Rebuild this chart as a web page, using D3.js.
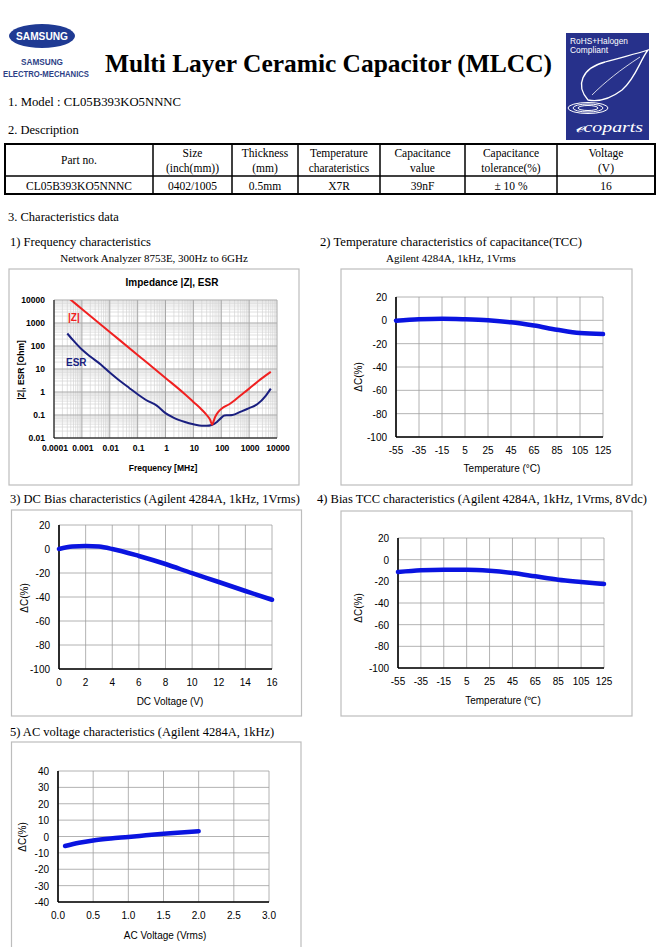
<!DOCTYPE html>
<html><head><meta charset="utf-8">
<script src="https://cdn.jsdelivr.net/npm/d3@7"></script>
<style>body{margin:0;background:#fff}svg{display:block}</style>
</head><body>
<script>
// ---------- DATA ----------
const tableHeaders = [["Part no."],["Size","(inch(mm))"],["Thickness","(mm)"],["Temperature","charateristics"],["Capacitance","value"],["Capacitance","tolerance(%)"],["Voltage","(V)"]];
const tableValues = ["CL05B393KO5NNNC","0402/1005","0.5mm","X7R","39nF","± 10 %","16"];

// 1) Impedance
const freqTicks = [0.0001,0.001,0.01,0.1,1,10,100,1000,10000];
const freqTickLabels = ["0.0001","0.001","0.01","0.1","1","10","100","1000","10000"];
const ohmTicks = [0.01,0.1,1,10,100,1000,10000];
const ohmTickLabels = ["0.01","0.1","1","10","100","1000","10000"];
const zFreq = [0.0003,0.001,0.01,0.1,1,5,10,20,30,40,47,52,60,80,110,200,500,1000,2000,6000];
const zOhm  = [13600,4080,408,40.8,4.1,0.8,0.37,0.17,0.1,0.062,0.038,0.05,0.08,0.14,0.2,0.3,0.72,1.4,2.8,7.5];
const esrFreq = [0.0003,0.0005,0.001,0.002,0.005,0.01,0.02,0.05,0.1,0.2,0.5,1,2,5,10,20,30,45,70,100,130,170,250,500,1000,2000,4000,6000];
const esrOhm  = [350,170,70,35,15,7,3.5,1.5,0.8,0.45,0.25,0.12,0.075,0.05,0.04,0.034,0.034,0.037,0.05,0.075,0.095,0.097,0.1,0.14,0.2,0.3,0.7,1.4];

// 2) TCC
const tempTicks = [-55,-35,-15,5,25,45,65,85,105,125];
const dcTicks100 = [-100,-80,-60,-40,-20,0,20];
const tccTemp = [-55,-35,-15,5,25,45,65,85,105,125];
const tccDelta = [-0.3,0.9,1.4,0.9,0,-1.7,-4.5,-8,-10.9,-11.8];

// 3) DC bias
const dcVoltTicks = [0,2,4,6,8,10,12,14,16];
const dcVolt = [0,1,2,3,4,6,8,10,12,14,16];
const dcDelta = [0,2,2.6,2,0,-5.8,-12.5,-20.2,-27.5,-35,-42.3];

// 4) Bias TCC
const btccTemp = [-55,-35,-15,5,25,45,65,85,105,125];
const btccDelta = [-11.4,-9.8,-9.2,-9.2,-10.2,-12.3,-15.4,-18.5,-20.6,-22.5];

// 5) AC voltage
const acTicks = [0,0.5,1,1.5,2,2.5,3];
const acTickLabels = ["0.0","0.5","1.0","1.5","2.0","2.5","3.0"];
const acDeltaTicks = [-40,-30,-20,-10,0,10,20,30,40];
const acVolt = [0.1,0.3,0.5,0.75,1.0,1.25,1.5,1.75,2.0];
const acDelta = [-5.8,-3.8,-2.4,-1.2,-0.3,0.7,1.7,2.5,3.2];

// ---------- DRAW ----------
const W=661,H=947;
const svg=d3.select("body").append("svg").attr("width",W).attr("height",H);
svg.append("rect").attr("width",W).attr("height",H).attr("fill","#fff");
const serif="'Liberation Serif','Times New Roman',serif";
const sans="'Liberation Sans',Arial,sans-serif";

function txt(x,y,s,o={}){
  const t=svg.append("text").attr("x",x).attr("y",y).text(s)
    .attr("font-family",o.ff||serif).attr("font-size",o.fs||12)
    .attr("fill",o.fill||"#000").attr("text-anchor",o.anchor||"start");
  if(o.fw) t.attr("font-weight",o.fw);
  if(o.fst) t.attr("font-style",o.fst);
  if(o.len) t.attr("textLength",o.len).attr("lengthAdjust","spacingAndGlyphs");
  return t;
}

// Samsung logo
svg.append("ellipse").attr("cx",42).attr("cy",36).attr("rx",33).attr("ry",12).attr("fill","#1f3a93");
txt(42,40,"SAMSUNG",{ff:sans,fs:10,fw:"bold",fill:"#fff",anchor:"middle",len:52});
txt(42,65,"SAMSUNG",{ff:sans,fs:9,fw:"bold",fill:"#2d3f86",anchor:"middle",len:42});
txt(46,77,"ELECTRO-MECHANICS",{ff:sans,fs:9,fw:"bold",fill:"#2d3f86",anchor:"middle",len:86});

// Title
txt(105,72,"Multi Layer Ceramic Capacitor (MLCC)",{fs:26,fw:"bold",len:447});

// Ecoparts logo
const eg=svg.append("g");
eg.append("rect").attr("x",566).attr("y",33).attr("width",83).attr("height",107).attr("fill","#27318b");
txt(570,44,"RoHS+Halogen",{ff:sans,fs:8.5,fill:"#fff",len:58});
txt(570,53,"Compliant",{ff:sans,fs:8.5,fill:"#fff",len:38});
eg.append("path").attr("d","M588,100 C575,85 582,68 605,62 C622,57 636,54 648,50 C640,60 636,78 622,90 C610,99 598,102 588,100 Z")
  .attr("fill","none").attr("stroke","#fff").attr("stroke-width",1.3);
eg.append("path").attr("d","M592,95 C605,82 620,70 640,57").attr("fill","none").attr("stroke","#fff").attr("stroke-width",0.8);
[[10,2.5],[15,4],[20,5.5]].forEach(([rx,ry])=>eg.append("ellipse").attr("cx",588).attr("cy",108).attr("rx",rx).attr("ry",ry).attr("fill","none").attr("stroke","#fff").attr("stroke-width",1));
txt(575,132,"ℯcoparts",{fs:14,fst:"italic",fill:"#fff",len:68});

txt(8,106,"1. Model : CL05B393KO5NNNC",{fs:12.5,len:173});
txt(8,134,"2. Description",{fs:12.5});

// Table
const colX=[5,153,232,298,380,465,557,655];
const rowY=[144,176,194];
const tg=svg.append("g");
tg.append("rect").attr("x",colX[0]).attr("y",rowY[0]).attr("width",colX[7]-colX[0]).attr("height",rowY[2]-rowY[0]).attr("fill","none").attr("stroke","#000").attr("stroke-width",2);
tg.append("line").attr("x1",colX[0]).attr("x2",colX[7]).attr("y1",rowY[1]).attr("y2",rowY[1]).attr("stroke","#000").attr("stroke-width",1.5);
colX.slice(1,7).forEach(x=>tg.append("line").attr("x1",x).attr("x2",x).attr("y1",rowY[0]).attr("y2",rowY[2]).attr("stroke","#000").attr("stroke-width",1.5));
tableHeaders.forEach((h,i)=>{
  const cx=(colX[i]+colX[i+1])/2;
  if(h.length===1) txt(cx,164,h[0],{fs:11.5,anchor:"middle"});
  else { txt(cx,157,h[0],{fs:11.5,anchor:"middle"}); txt(cx,172,h[1],{fs:11.5,anchor:"middle"}); }
});
tableValues.forEach((v,i)=>txt((colX[i]+colX[i+1])/2,189.5,v,{fs:11.5,anchor:"middle"}));

txt(8,221,"3. Characteristics data",{fs:12.5});

// section titles
txt(10,246,"1) Frequency characteristics",{fs:12.5});
txt(154,262,"Network Analyzer 8753E, 300Hz to 6GHz",{fs:11,anchor:"middle"});
txt(320,246,"2) Temperature characteristics of capacitance(TCC)",{fs:12.5,len:262});
txt(451,262,"Agilent 4284A, 1kHz, 1Vrms",{fs:11,anchor:"middle"});
txt(10,503,"3) DC Bias characteristics (Agilent 4284A, 1kHz, 1Vrms)",{fs:12.5});
txt(317,503,"4) Bias TCC characteristics (Agilent 4284A, 1kHz, 1Vrms, 8Vdc)",{fs:12.5});
txt(10,736,"5) AC voltage characteristics (Agilent 4284A, 1kHz)",{fs:12.5});

// boxes
[[9,269,299,485],[341,269,632,485],[11.5,510,301.5,716],[341,511,632,716],[11.5,742,301,960]].forEach(([x0,y0,x1,y1])=>
  svg.append("rect").attr("x",x0).attr("y",y0).attr("width",x1-x0).attr("height",y1-y0).attr("fill","none").attr("stroke","#bdbdbd").attr("stroke-width",1.2));

// ---------- Chart 1 ----------
(function(){
  const x=d3.scaleLog().domain([1e-4,1e4]).range([54,277]);
  const y=d3.scaleLog().domain([0.01,10000]).range([438,300]);
  const g=svg.append("g");
  g.append("clipPath").attr("id","c1").append("rect").attr("x",54).attr("y",300).attr("width",223).attr("height",138);
  const minorX=[],minorY=[];
  for(let e=-4;e<4;e++) for(let k=2;k<10;k++) minorX.push(k*Math.pow(10,e));
  for(let e=-2;e<4;e++) for(let k=2;k<10;k++) minorY.push(k*Math.pow(10,e));
  g.selectAll(".mx").data(minorX).join("line").attr("x1",d=>x(d)).attr("x2",d=>x(d)).attr("y1",300).attr("y2",438).attr("stroke","#d4d4d4").attr("stroke-width",0.7);
  g.selectAll(".my").data(minorY).join("line").attr("y1",d=>y(d)).attr("y2",d=>y(d)).attr("x1",54).attr("x2",277).attr("stroke","#d4d4d4").attr("stroke-width",0.7);
  g.selectAll(".Mx").data(freqTicks).join("line").attr("x1",d=>x(d)).attr("x2",d=>x(d)).attr("y1",300).attr("y2",438).attr("stroke","#a8a8a8").attr("stroke-width",1);
  g.selectAll(".My").data(ohmTicks).join("line").attr("y1",d=>y(d)).attr("y2",d=>y(d)).attr("x1",54).attr("x2",277).attr("stroke","#a8a8a8").attr("stroke-width",1);
  g.append("line").attr("x1",54).attr("x2",54).attr("y1",300).attr("y2",438).attr("stroke","#000").attr("stroke-width",1);
  g.append("line").attr("x1",54).attr("x2",277).attr("y1",438).attr("y2",438).attr("stroke","#000").attr("stroke-width",1);
  const line=d3.line().x(d=>x(d[0])).y(d=>y(d[1])).curve(d3.curveMonotoneX);
  const cg=g.append("g").attr("clip-path","url(#c1)");
  cg.append("path").attr("d",line(esrFreq.map((f,i)=>[f,esrOhm[i]]))).attr("fill","none").attr("stroke","#1a1f80").attr("stroke-width",2);
  cg.append("path").attr("d",line(zFreq.map((f,i)=>[f,zOhm[i]]))).attr("fill","none").attr("stroke","#f02020").attr("stroke-width",2);
  freqTicks.forEach((t,i)=>txt(x(t)+1,451,freqTickLabels[i],{ff:sans,fs:8.5,fw:"bold",anchor:"middle"}));
  ohmTicks.forEach((t,i)=>txt(45,y(t)+3,ohmTickLabels[i],{ff:sans,fs:8.5,fw:"bold",anchor:"end"}));
  txt(172,286,"Impedance |Z|,  ESR",{ff:sans,fs:10,fw:"bold",anchor:"middle"});
  txt(68,321,"|Z|",{ff:sans,fs:10,fw:"bold",fill:"#f02020"});
  txt(66,366,"ESR",{ff:sans,fs:10,fw:"bold",fill:"#1a1f80"});
  txt(163,471,"Frequency [MHz]",{ff:sans,fs:8.5,fw:"bold",anchor:"middle"});
  svg.append("text").attr("transform","translate(24,370) rotate(-90)").attr("text-anchor","middle")
    .attr("font-family",sans).attr("font-size",8.5).attr("font-weight","bold").text("|Z|, ESR [Ohm]");
})();

// generic linear chart
function linChart(o){
  const x=d3.scaleLinear().domain(o.xd).range([o.l,o.r]);
  const y=d3.scaleLinear().domain(o.yd).range([o.b,o.t]);
  const g=svg.append("g");
  g.selectAll(".gx").data(o.xt).join("line").attr("x1",d=>x(d)).attr("x2",d=>x(d)).attr("y1",o.t).attr("y2",o.b).attr("stroke","#a0a0a0").attr("stroke-width",0.8);
  g.selectAll(".gy").data(o.yt).join("line").attr("y1",d=>y(d)).attr("y2",d=>y(d)).attr("x1",o.l).attr("x2",o.r).attr("stroke","#a0a0a0").attr("stroke-width",0.8);
  g.append("line").attr("x1",o.l).attr("x2",o.l).attr("y1",o.t).attr("y2",o.b).attr("stroke","#000").attr("stroke-width",1.6);
  g.append("line").attr("x1",o.l).attr("x2",o.r).attr("y1",o.b).attr("y2",o.b).attr("stroke","#000").attr("stroke-width",1.6);
  const line=d3.line().x(d=>x(d[0])).y(d=>y(d[1])).curve(d3.curveMonotoneX);
  g.append("path").attr("d",line(o.xs.map((v,i)=>[v,o.ys[i]]))).attr("fill","none").attr("stroke","#0a14e0").attr("stroke-width",4.5).attr("stroke-linecap","round");
  o.xt.forEach((t,i)=>txt(x(t),o.b+17,o.xl?o.xl[i]:String(t),{ff:sans,fs:10,anchor:"middle"}));
  o.yt.forEach(t=>txt(o.l-9,y(t)+4,String(t),{ff:sans,fs:10,anchor:"end"}));
  txt(o.xlx,o.xly,o.xlab,{ff:sans,fs:10,anchor:"middle"});
  svg.append("text").attr("transform",`translate(${o.ylx},${o.yly}) rotate(-90)`).attr("text-anchor","middle")
    .attr("font-family",sans).attr("font-size",10).text("ΔC(%)");
}

linChart({l:396,r:603,t:297,b:437,xd:[-55,125],yd:[-100,20],xt:tempTicks,yt:dcTicks100,xs:tccTemp,ys:tccDelta,
  xlab:"Temperature (°C)",xlx:502,xly:472,ylx:362,yly:377});
linChart({l:59,r:272,t:525,b:669,xd:[0,16],yd:[-100,20],xt:dcVoltTicks,yt:dcTicks100,xs:dcVolt,ys:dcDelta,
  xlab:"DC Voltage (V)",xlx:170,xly:705,ylx:28,yly:598});
linChart({l:398,r:604,t:538,b:668,xd:[-55,125],yd:[-100,20],xt:tempTicks,yt:dcTicks100,xs:btccTemp,ys:btccDelta,
  xlab:"Temperature (℃)",xlx:503,xly:704,ylx:362,yly:608});
linChart({l:58,r:269,t:771,b:902,xd:[0,3],yd:[-40,40],xt:acTicks,xl:acTickLabels,yt:acDeltaTicks,xs:acVolt,ys:acDelta,
  xlab:"AC Voltage (Vrms)",xlx:165,xly:939,ylx:26,yly:837});
</script>
</body></html>
